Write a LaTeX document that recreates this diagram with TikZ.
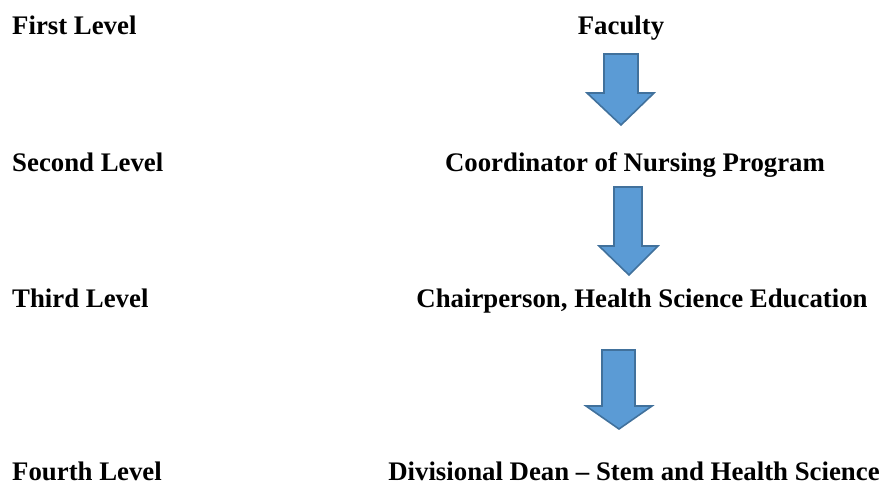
\documentclass[tikz,border=0pt]{standalone}
\usepackage{fontspec}
\setmainfont{Liberation Serif}
\definecolor{arrowfill}{HTML}{5B9BD5}
\definecolor{arrowline}{HTML}{41719C}
\tikzset{
  lvl/.style={anchor=base west, inner sep=0pt, font=\fontsize{26.8}{30}\selectfont\bfseries},
  role/.style={anchor=base, inner sep=0pt, font=\fontsize{26.8}{30}\selectfont\bfseries},
  blockarrow/.style={fill=arrowfill, draw=arrowline, line width=1.6pt, line join=miter}
}
\begin{document}
\begin{tikzpicture}[x=1pt,y=-1pt]
\useasboundingbox (0,0) rectangle (883,494);
\node[lvl] (l1) at (12,35) {First Level};
\node[lvl] (l2) at (12,172) {Second Level};
\node[lvl] (l3) at (12,307) {Third Level};
\node[lvl] (l4) at (12,480) {Fourth Level};
\node[role] (r1) at (621,35) {Faculty};
\node[role] (r2) at (635,172) {Coordinator of Nursing Program};
\node[role] (r3) at (642,307) {Chairperson, Health Science Education};
\node[role] (r4) at (634,480) {Divisional Dean -- Stem and Health Science};
% arrow 1
\filldraw[blockarrow] (604,54) -- (638,54) -- (638,93) -- (654,93) -- (621,125) -- (587,93) -- (604,93) -- cycle;
% arrow 2
\filldraw[blockarrow] (614,187) -- (642,187) -- (642,246) -- (658,246) -- (629,275) -- (599,246) -- (614,246) -- cycle;
% arrow 3
\filldraw[blockarrow] (602,350) -- (635,350) -- (635,406) -- (652,406) -- (619,429) -- (586,406) -- (602,406) -- cycle;
\end{tikzpicture}
\end{document}
